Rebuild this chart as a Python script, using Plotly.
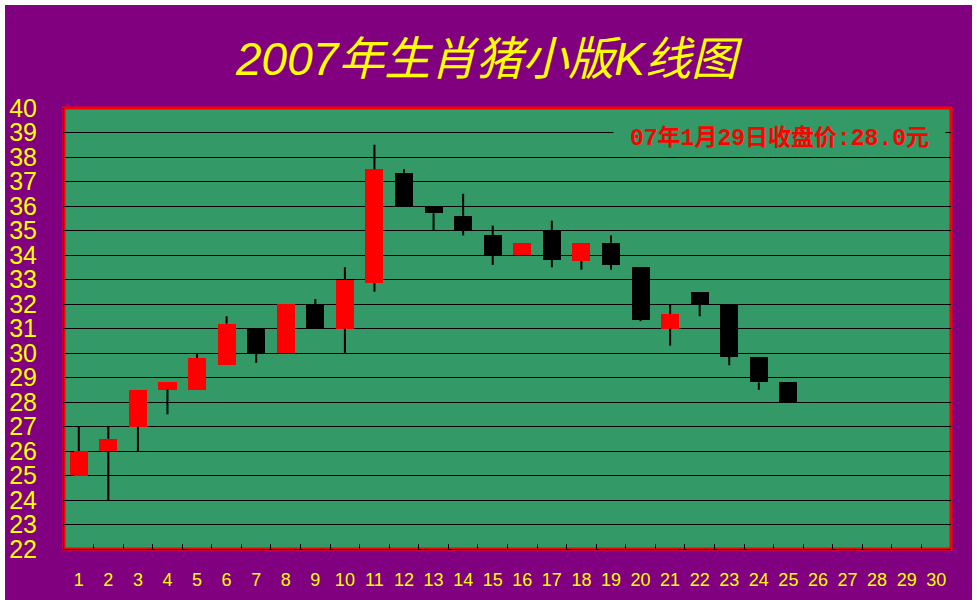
import plotly.graph_objects as go

# ---- data ----
days = list(range(1, 26))
opens = [25.0, 26.0, 27.0, 28.5, 28.5, 29.5, 31.0, 30.0, 32.0, 31.0, 32.85, 37.35, 36.0,
         35.6, 34.8, 34.0, 35.0, 33.75, 34.5, 33.5, 31.0, 32.5, 32.0, 29.85, 28.8]
closes = [26.0, 26.5, 28.5, 28.8, 29.8, 31.2, 30.0, 32.0, 31.0, 33.0, 37.5, 36.0, 35.7,
          35.0, 34.0, 34.5, 33.8, 34.5, 33.6, 31.35, 31.6, 32.0, 29.85, 28.8, 28.0]
highs = [27.0, 27.0, 28.5, 28.8, 30.0, 31.5, 31.0, 32.0, 32.2, 33.5, 38.5, 37.5, 36.0,
         36.5, 35.2, 34.5, 35.4, 34.5, 34.8, 33.5, 32.0, 32.5, 32.0, 29.85, 28.8]
lows = [25.0, 24.0, 26.0, 27.5, 28.5, 29.5, 29.6, 30.0, 31.0, 30.0, 32.5, 36.0, 35.0,
        34.8, 33.6, 34.0, 33.5, 33.4, 33.4, 31.3, 30.3, 31.5, 29.5, 28.5, 28.0]
x_labels = [str(i) for i in range(1, 31)]
y_ticks = list(range(22, 41))
title_text = "2007年生肖猪小版K线图"
note_text = "07年1月29日收盘价:28.0元"

PURPLE = "#800080"
GREEN = "#339966"
RED = "#FF0000"
YELLOW = "#FFFF00"

W, H = 977, 600
ML, MR, MT, MB = 64, 26, 108, 51
PW, PH = W - ML - MR, H - MT - MB

def px_x(p):
    return (p - ML) / PW

def px_y(p):
    return (H - MB - p) / PH

bases = [min(o, c) for o, c in zip(opens, closes)]
tops = [max(o, c) for o, c in zip(opens, closes)]
heights = [t - b for t, b in zip(tops, bases)]
colors = [RED if c >= o else "#000000" for o, c in zip(opens, closes)]

# wicks: upper (body top -> high) and lower (low -> body bottom) segments
wx, wy = [], []
for d, lo, hi, b, t in zip(days, lows, highs, bases, tops):
    if hi > t:
        wx += [d, d, None]
        wy += [t, hi, None]
    if lo < b:
        wx += [d, d, None]
        wy += [lo, b, None]

fig = go.Figure()
fig.add_trace(go.Bar(x=days, y=heights, base=bases, width=0.61,
                     marker=dict(color=colors, line=dict(width=0)), showlegend=False))
fig.add_trace(go.Scatter(x=wx, y=wy, mode="lines", line=dict(color="black", width=2),
                         hoverinfo="skip", showlegend=False))
# carrier for secondary tick axis
fig.add_trace(go.Scatter(x=[1], y=[22], xaxis="x2", mode="markers",
                         marker=dict(opacity=0), hoverinfo="skip", showlegend=False))

fig.update_layout(
    width=W, height=H,
    margin=dict(l=ML, r=MR, t=MT, b=MB, autoexpand=False),
    paper_bgcolor="white",
    plot_bgcolor="rgba(0,0,0,0)",
    bargap=0,
    title=dict(text=title_text, x=486.5 / W, xref="container", xanchor="center",
               y=1 - 59 / H, yref="container", yanchor="middle", automargin=False,
               font=dict(family="Liberation Sans, Noto Sans CJK SC", size=46,
                         color=YELLOW, style="italic")),
    xaxis=dict(range=[0.5, 30.5], tickvals=list(range(1, 31)), ticktext=x_labels,
               ticks="", showgrid=False, zeroline=False, showline=True,
               linecolor="black", linewidth=1, automargin=False,
               tickfont=dict(family="Liberation Sans", size=18, color=YELLOW),
               ticklabelstandoff=14),
    xaxis2=dict(range=[0.5, 30.5], overlaying="x", anchor="y", side="bottom",
                tickvals=[i + 0.5 for i in range(1, 31)], ticks="inside", ticklen=5,
                tickcolor="black", tickwidth=1, showticklabels=False, automargin=False,
                showgrid=False, zeroline=False, showline=False),
    yaxis=dict(range=[22, 40], tickvals=y_ticks, ticks="inside", ticklen=10,
               tickcolor="black", showgrid=True, gridcolor="black", gridwidth=1,
               zeroline=False, showline=True, linecolor="black", linewidth=1,
               automargin=False,
               tickfont=dict(family="Liberation Sans", size=25, color=YELLOW),
               ticklabelstandoff=21),
    shapes=[
        dict(type="rect", xref="paper", yref="paper", layer="below",
             x0=px_x(5), x1=px_x(972), y0=px_y(620), y1=px_y(5),
             fillcolor=PURPLE, line=dict(width=0)),
        dict(type="rect", xref="paper", yref="paper", layer="below",
             x0=0, x1=1, y0=0, y1=1, fillcolor=GREEN,
             line=dict(color=RED, width=3)),
    ],
    annotations=[
        dict(text=note_text, xref="paper", yref="paper",
             x=px_x(779.5), y=px_y(137.5), xanchor="center", yanchor="middle",
             showarrow=False, bgcolor=GREEN, width=329, height=26,
             font=dict(family="Liberation Mono, Noto Sans CJK SC", size=23,
                       color=RED, weight="bold")),
    ],
)

fig.write_html("out.html", config={"displayModeBar": False},
               post_script="document.body.style.margin='0';")
